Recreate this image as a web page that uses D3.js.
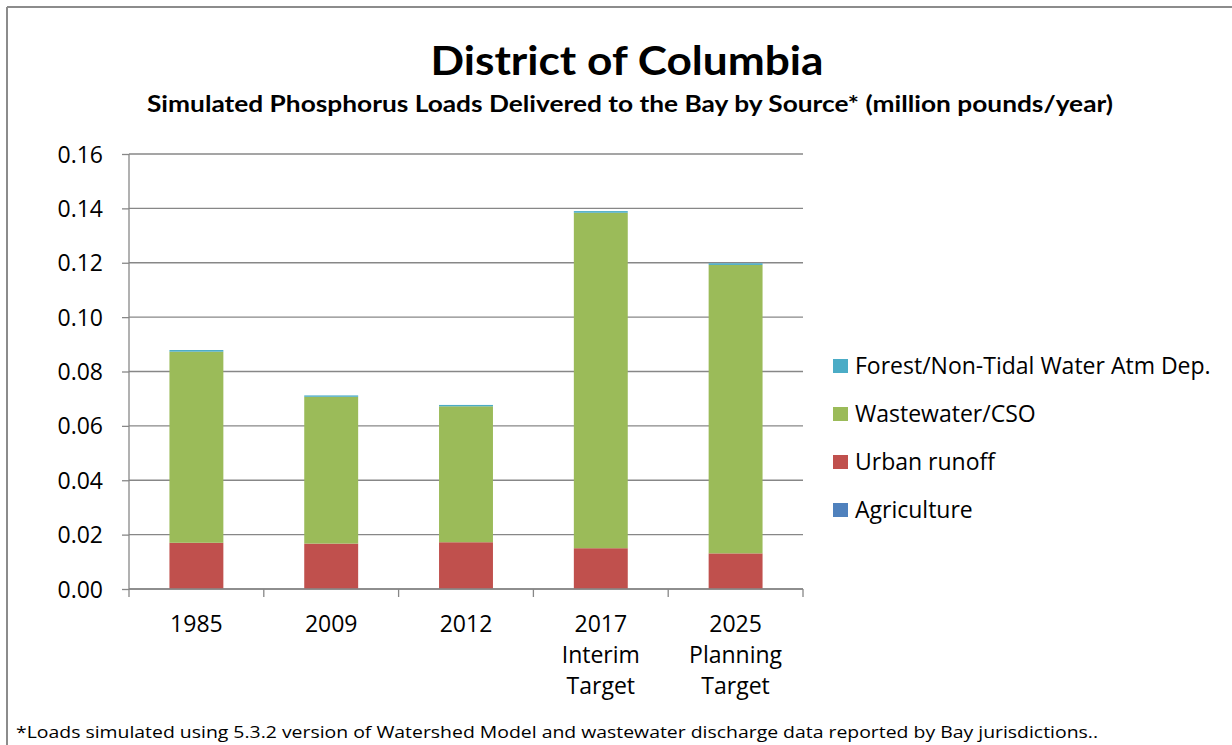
<!DOCTYPE html>
<html>
<head>
<meta charset="utf-8">
<script src="https://cdn.jsdelivr.net/npm/d3@7"></script>
<style>
  body { margin: 0; background: #fff; }
  svg { font-family: "Open Sans", Lato, sans-serif; }
</style>
</head>
<body>
<svg id="chart"></svg>
<script>
// Data (million pounds/year)
const categories = [["1985"], ["2009"], ["2012"], ["2017", "Interim", "Target"], ["2025", "Planning", "Target"]];
const agriculture = [0, 0, 0, 0, 0];
const urbanRunoff = [0.0170, 0.0167, 0.0172, 0.0150, 0.0131];
const wastewater = [0.0703, 0.0540, 0.0500, 0.1234, 0.1061];
const forest = [0.0006, 0.0005, 0.0005, 0.0006, 0.0006];
const yTicks = [0, 0.02, 0.04, 0.06, 0.08, 0.10, 0.12, 0.14, 0.16];

const series = [
    { name: "Agriculture", values: agriculture, color: "#4F81BD" },
    { name: "Urban runoff", values: urbanRunoff, color: "#C0504D" },
    { name: "Wastewater/CSO", values: wastewater, color: "#9BBB59" },
    { name: "Forest/Non-Tidal Water Atm Dep.", values: forest, color: "#4BACC6" }
];

const W = 1232, H = 745;
const margin = { top: 154, left: 129, right: 429, bottom: 156 };
const width = W - margin.left - margin.right;
const height = H - margin.top - margin.bottom;

const root = d3.select('#chart').attr('width', W).attr('height', H);

// outer frame lines
root.append('line').attr('x1', 7).attr('x2', W).attr('y1', 7).attr('y2', 7)
    .attr('stroke', '#8c8c8c').attr('stroke-width', 2);
root.append('line').attr('x1', 7).attr('x2', 7).attr('y1', 7).attr('y2', H)
    .attr('stroke', '#8c8c8c').attr('stroke-width', 2);

// titles
root.append('text').attr('x', 627).attr('y', 75).attr('text-anchor', 'middle')
    .attr('font-size', 40).attr('font-weight', 'bold').attr('font-family', 'Lato, sans-serif')
    .attr('textLength', 393).attr('lengthAdjust', 'spacingAndGlyphs')
    .text('District of Columbia');
root.append('text').attr('x', 630).attr('y', 112).attr('text-anchor', 'middle')
    .attr('font-size', 22).attr('font-weight', 'bold').attr('font-family', 'Lato, sans-serif')
    .attr('textLength', 966).attr('lengthAdjust', 'spacingAndGlyphs')
    .text('Simulated Phosphorus Loads Delivered to the Bay by Source* (million pounds/year)');

const svg = root.append('g').attr('transform', `translate(${margin.left},${margin.top})`);

const x = d3.scaleBand().domain(d3.range(categories.length)).range([0, width]).paddingInner(0.6).paddingOuter(0.3);
const xb = d3.scaleBand().domain(d3.range(categories.length)).range([0, width]);
const y = d3.scaleLinear().domain([0, 0.16]).range([height, 0]);

// gridlines
svg.append('g').selectAll('line').data(yTicks).enter().append('line')
    .attr('x1', 0).attr('x2', width)
    .attr('y1', d => y(d)).attr('y2', d => y(d))
    .attr('stroke', '#878787').attr('stroke-width', 1.3);

// stacked bars
const stackData = categories.map((c, i) => {
    const o = {};
    series.forEach(s => { o[s.name] = s.values[i]; });
    return o;
});
const stacked = d3.stack().keys(series.map(s => s.name))(stackData);

stacked.forEach((layer, k) => {
    svg.append('g').selectAll('rect').data(layer).enter().append('rect')
        .attr('x', (d, i) => x(i))
        .attr('width', x.bandwidth())
        .attr('y', d => y(d[1]))
        .attr('height', d => y(d[0]) - y(d[1]))
        .attr('fill', series[k].color);
});

// y axis
const yAxis = svg.append('g')
    .call(d3.axisLeft(y).tickValues(yTicks).tickFormat(d3.format('.2f')).tickSize(7).tickPadding(19));
yAxis.selectAll('line').attr('stroke', '#878787').attr('stroke-width', 1.3);
yAxis.select('.domain').attr('stroke', '#878787').attr('stroke-width', 1.3).attr('d', `M0,0V${height}`);
yAxis.selectAll('text').attr('font-size', 23).attr('fill', '#000').attr('font-family', '"Open Sans", sans-serif').attr('dy', '0.35em');

// x axis
const xAxis = svg.append('g').attr('transform', `translate(0,${height})`);
xAxis.append('line').attr('x1', 0).attr('x2', width).attr('stroke', '#878787').attr('stroke-width', 1.3);
xAxis.selectAll('.tick').data(d3.range(categories.length + 1)).enter().append('line')
    .attr('x1', d => d * xb.bandwidth()).attr('x2', d => d * xb.bandwidth())
    .attr('y1', 0).attr('y2', 8)
    .attr('stroke', '#878787').attr('stroke-width', 1.3);
categories.forEach((lines, i) => {
    const t = xAxis.append('text').attr('text-anchor', 'middle').attr('font-size', 23).attr('fill', '#000');
    lines.forEach((ln, j) => {
        t.append('tspan').attr('x', xb(i) + xb.bandwidth() / 2).attr('y', 43 + j * 31).text(ln);
    });
});

// legend
const legend = root.append('g').attr('transform', 'translate(833,366)');
series.slice().reverse().forEach((s, i) => {
    legend.append('rect').attr('x', 0).attr('y', i * 48 - 7).attr('width', 15).attr('height', 14).attr('fill', s.color);
    legend.append('text').attr('x', 22).attr('y', i * 48).attr('dy', '0.35em')
        .attr('font-size', 23).attr('fill', '#000').text(s.name);
});

// footnote
root.append('text').attr('x', 16).attr('y', 738).attr('font-size', 17)
    .attr('textLength', 1082).attr('lengthAdjust', 'spacingAndGlyphs')
    .text('*Loads simulated using 5.3.2 version of Watershed Model and wastewater discharge data reported by Bay jurisdictions..');
</script>
</body>
</html>
